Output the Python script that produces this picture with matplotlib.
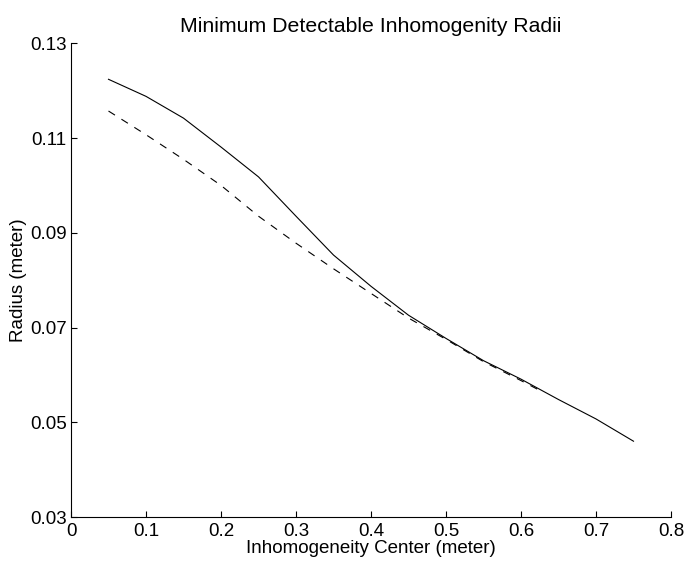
import numpy as np
import matplotlib
matplotlib.use('Agg')
import matplotlib.pyplot as plt

# Centre de la inhomogeneitat (m)
x_solid = [0.05, 0.10, 0.15, 0.20, 0.25, 0.30, 0.35, 0.40, 0.45, 0.50, 0.55, 0.60, 0.65, 0.70, 0.75]
r_solid = [0.1224, 0.1188, 0.1142, 0.1081, 0.1018, 0.0935, 0.0853, 0.0787, 0.0726, 0.0677, 0.0630, 0.0591, 0.0548, 0.0507, 0.0460]

x_dash = [0.05, 0.10, 0.15, 0.20, 0.25, 0.30, 0.35, 0.40, 0.45, 0.50, 0.55, 0.60, 0.63]
r_dash = [0.1157, 0.1107, 0.1055, 0.1000, 0.0935, 0.0878, 0.0824, 0.0772, 0.0720, 0.0675, 0.0628, 0.0588, 0.0563]

xticks = [0, 0.1, 0.2, 0.3, 0.4, 0.5, 0.6, 0.7, 0.8]
yticks = [0.03, 0.05, 0.07, 0.09, 0.11, 0.13]

plt.rcParams['font.family'] = ['Liberation Sans', 'DejaVu Sans']
plt.rcParams['lines.scale_dashes'] = False

fig = plt.figure(figsize=(6.88, 5.63), dpi=100)
ax = fig.add_axes([0.1032, 0.0817, 0.8721, 0.8414])

ax.plot(x_solid, r_solid, color='black', lw=0.8)
ax.plot(x_dash, r_dash, color='black', lw=0.8, ls=(0, (5.5, 5.5)))

ax.set_xlim(0, 0.8)
ax.set_ylim(0.03, 0.13)
ax.set_xticks(xticks)
ax.set_xticklabels([f'{t:g}' for t in xticks])
ax.set_yticks(yticks)
ax.set_yticklabels([f'{t:g}' for t in yticks])

ax.spines['top'].set_visible(False)
ax.spines['right'].set_visible(False)
ax.tick_params(direction='in', length=4, width=0.8, labelsize=13.5)
ax.tick_params(axis='x', pad=4)
ax.tick_params(axis='y', pad=3)

ax.set_title('Minimum Detectable Inhomogenity Radii', fontsize=15.3, pad=8)
ax.set_xlabel('Inhomogeneity Center (meter)', fontsize=13.5, labelpad=0)
ax.set_ylabel('Radius (meter)', fontsize=13.5, labelpad=2)

fig.savefig('out.png', dpi=100)
